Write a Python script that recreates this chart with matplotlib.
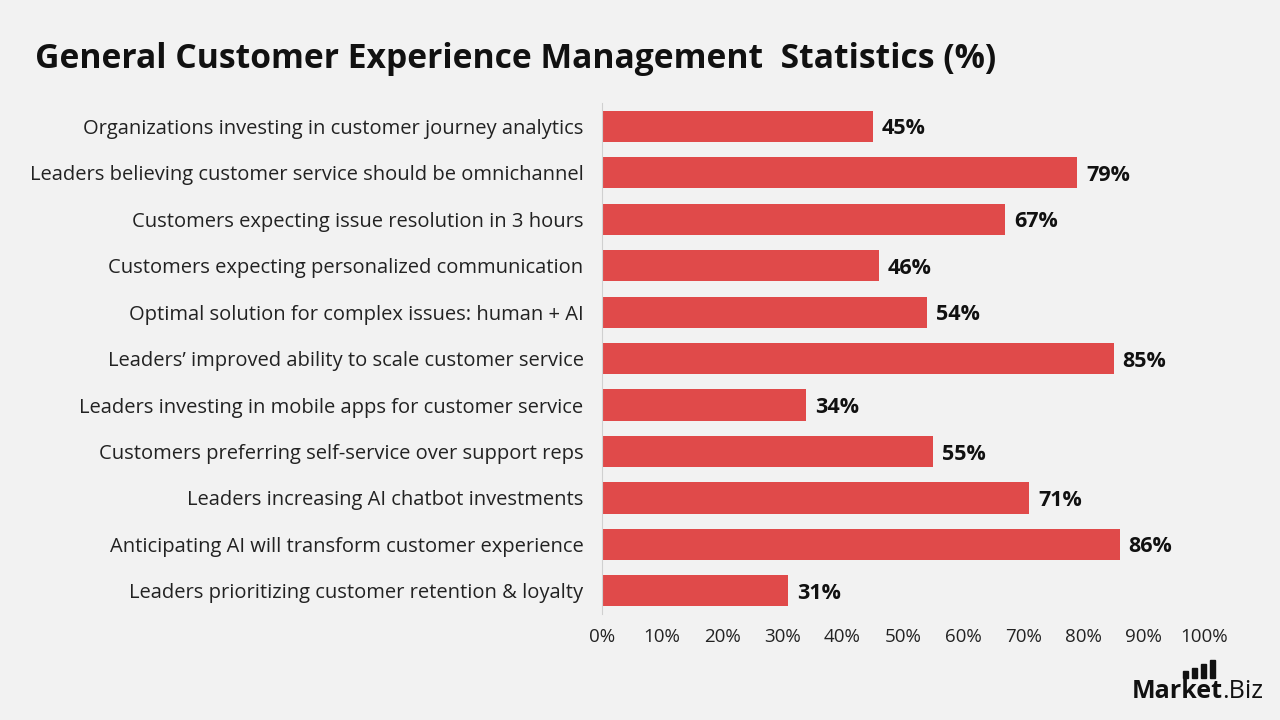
import matplotlib
matplotlib.use('Agg')
from matplotlib import pyplot as plt
from matplotlib.patches import Rectangle

labels = [
    'Organizations investing in customer journey analytics',
    'Leaders believing customer service should be omnichannel',
    'Customers expecting issue resolution in 3 hours',
    'Customers expecting personalized communication',
    'Optimal solution for complex issues: human + AI',
    'Leaders\u2019 improved ability to scale customer service',
    'Leaders investing in mobile apps for customer service',
    'Customers preferring self-service over support reps',
    'Leaders increasing AI chatbot investments',
    'Anticipating AI will transform customer experience',
    'Leaders prioritizing customer retention & loyalty',
]
values = [45, 79, 67, 46, 54, 85, 34, 55, 71, 86, 31]
ticks = [0, 10, 20, 30, 40, 50, 60, 70, 80, 90, 100]

plt.rcParams['font.family'] = ['Open Sans', 'DejaVu Sans']
bg = '#f2f2f2'

fig = plt.figure(figsize=(12.8, 7.2), dpi=100, facecolor=bg)
ax = fig.add_axes([0.470, 0.147, 0.4706, 0.71], facecolor=bg)

ypos = list(range(len(labels)))
ax.barh(ypos, values, height=0.67, color='#e04a4a')
ax.set_ylim(len(labels) - 0.5, -0.5)
ax.set_xlim(0, 100)
ax.set_yticks(ypos)
ax.set_yticklabels(labels, fontsize=14.5, color='#222222')
ax.set_xticks(ticks)
ax.set_xticklabels([f'{t}%' for t in ticks], fontsize=13.5, color='#222222')
ax.tick_params(axis='both', length=0)
ax.tick_params(axis='y', pad=13)
ax.tick_params(axis='x', pad=10)
for s in ['top', 'right', 'bottom']:
    ax.spines[s].set_visible(False)
ax.spines['left'].set_color('#d0d0d0')

for y, v in zip(ypos, values):
    ax.text(v + 1.5, y, f'{v}%', va='center_baseline', ha='left', fontsize=15.5,
            fontweight='bold', color='#111111')

fig.text(0.027, 0.918, 'General Customer Experience Management  Statistics (%)',
         fontsize=24.2, fontweight='bold', color='#111111', va='center')

# logo
fig.text(0.955, 0.040, 'Market', fontsize=18, fontweight='bold', color='#111111',
         va='center', ha='right')
fig.text(0.955, 0.040, '.Biz', fontsize=18, color='#111111', va='center', ha='left')
for x0, h in [(1183, 7), (1192, 10), (1201, 14), (1210, 18)]:
    fig.patches.append(Rectangle((x0 / 1280, 1 - 678 / 720), 5 / 1280, h / 720,
                                 transform=fig.transFigure, color='#111111'))

fig.savefig('out.png', dpi=100, facecolor=bg)
